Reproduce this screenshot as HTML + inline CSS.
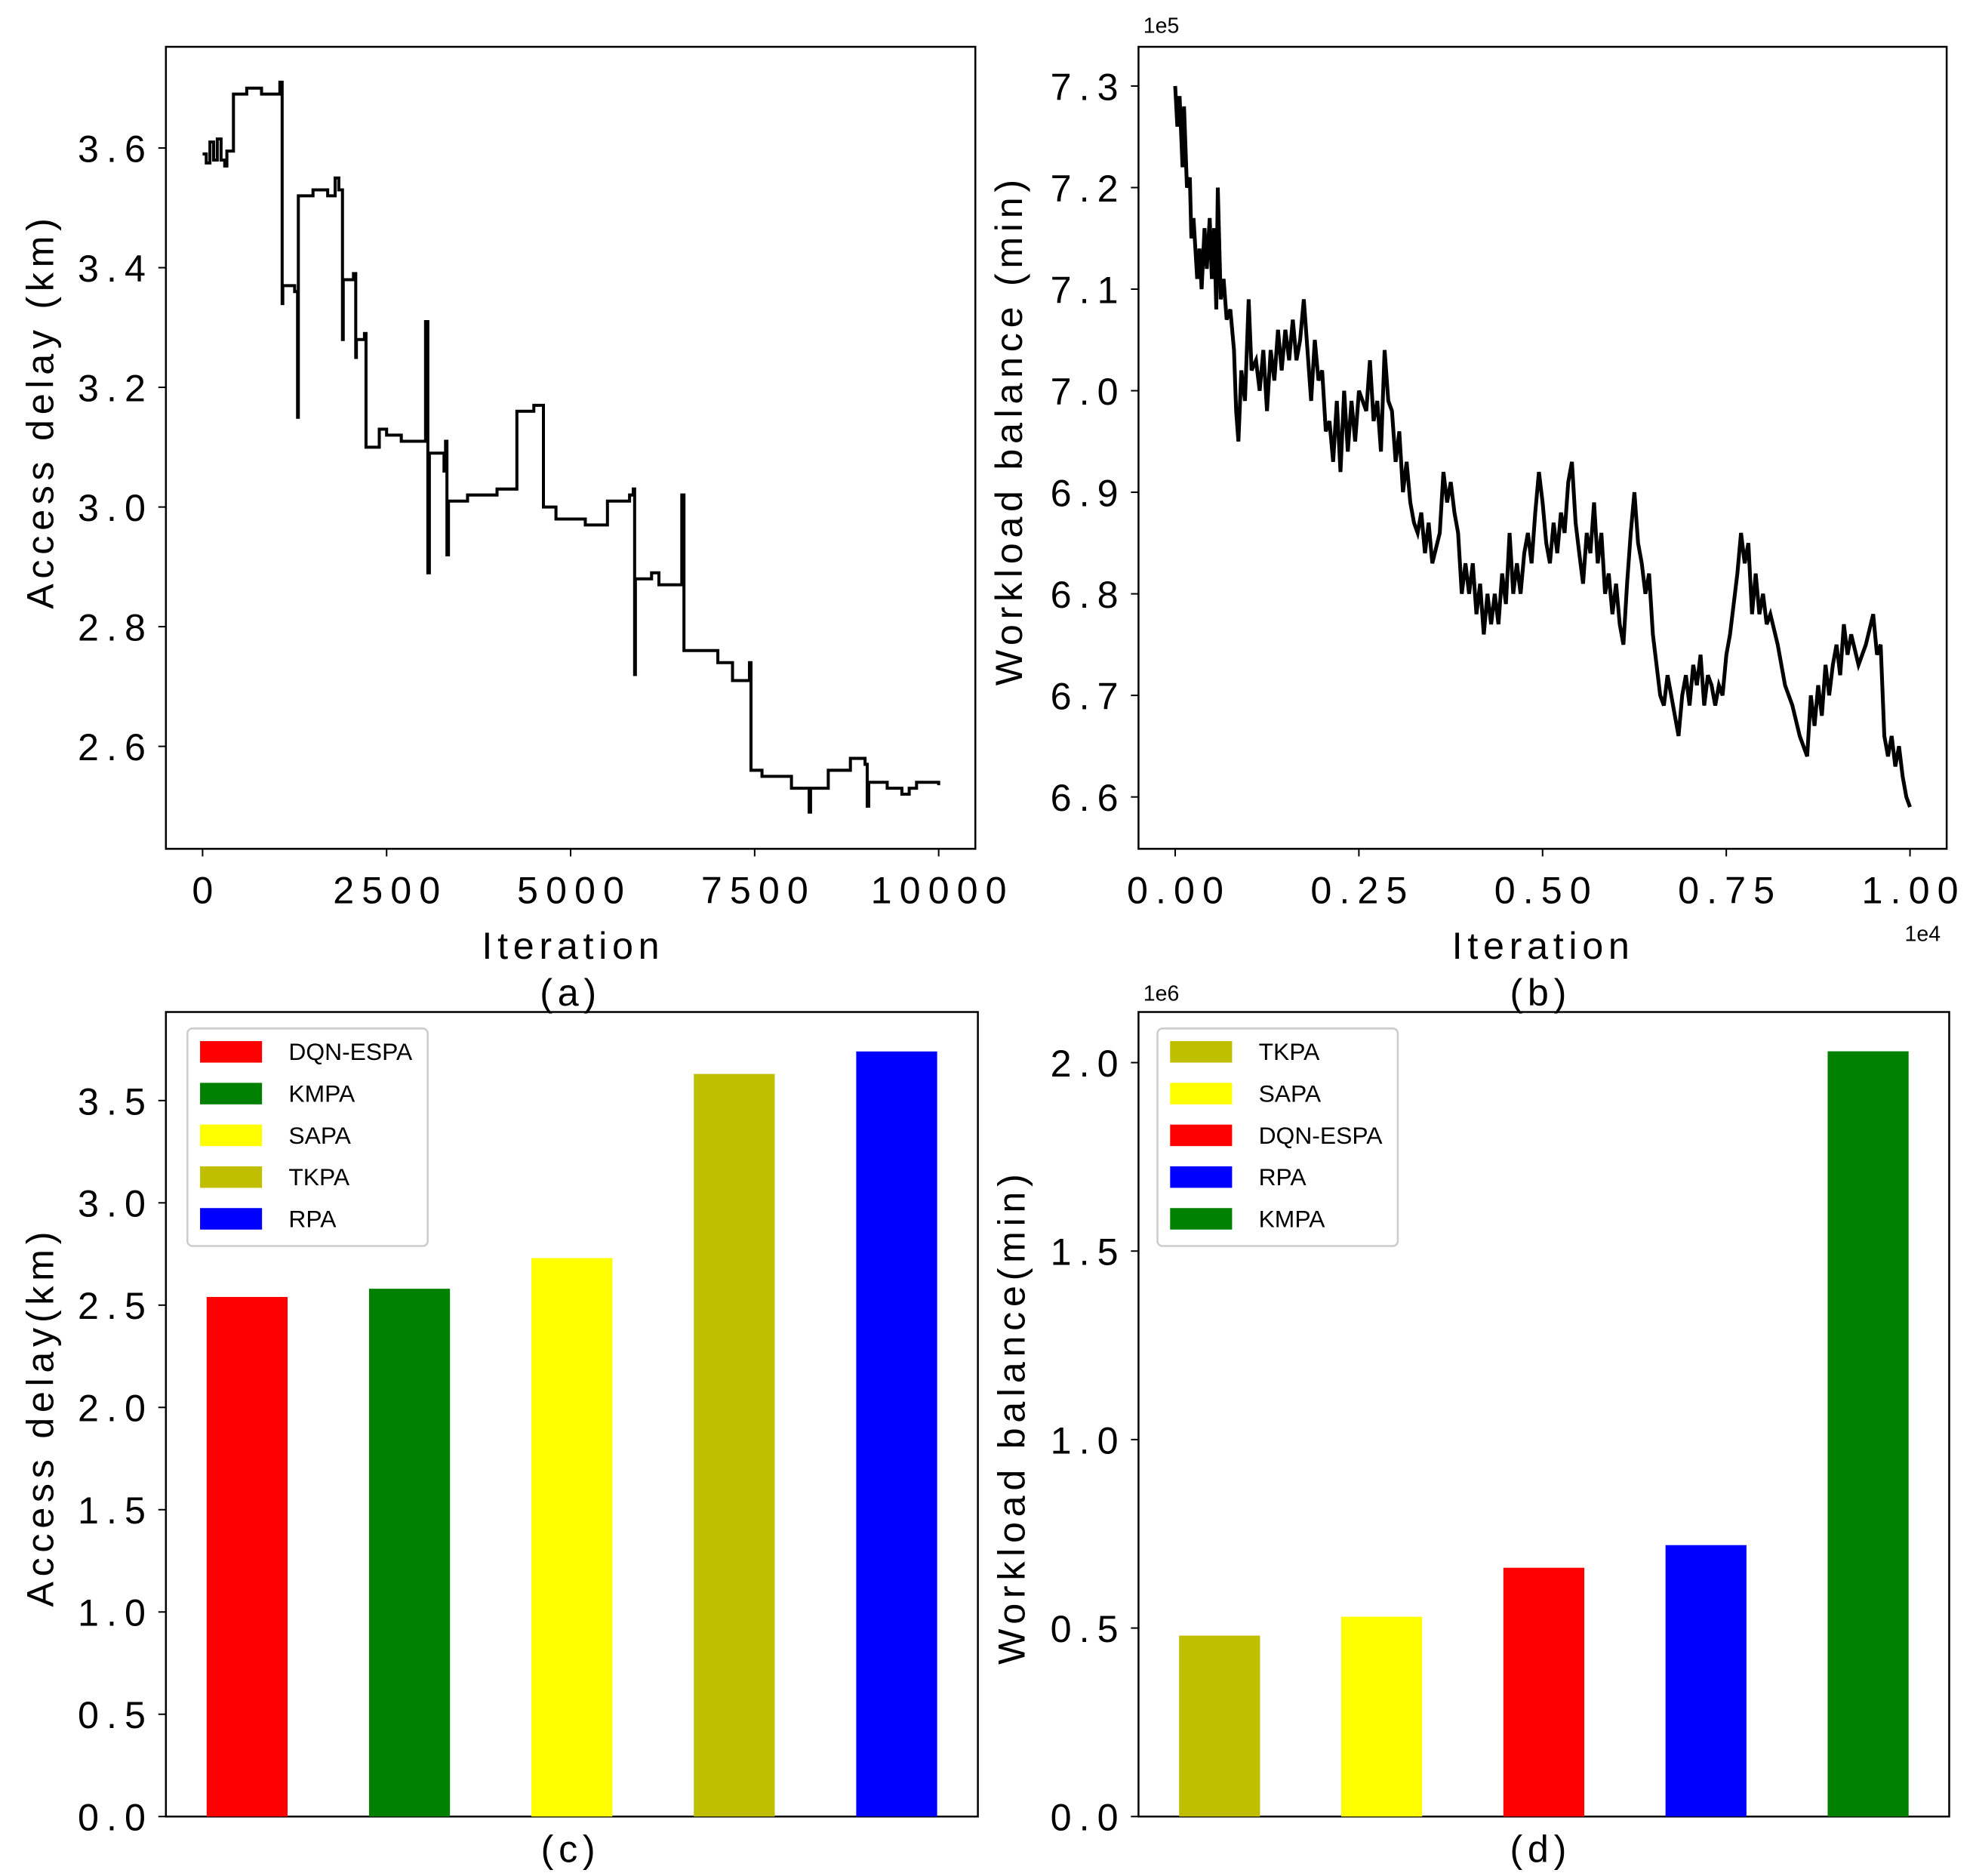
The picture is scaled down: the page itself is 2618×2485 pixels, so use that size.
<!DOCTYPE html>
<html><head><meta charset="utf-8">
<style>
html,body{margin:0;padding:0;background:#fff;}
svg{display:block;}
text{font-family:"Liberation Sans","Noto Sans CJK SC",sans-serif;fill:#000;}
.tick{font-size:30px;letter-spacing:6px;}
.lab{font-size:30px;letter-spacing:4px;}
.leg{font-size:19px;}
.small{font-size:17px;}
</style></head>
<body>
<svg id="fig" width="2618" height="2485" viewBox="0 0 1562 1483" xmlns="http://www.w3.org/2000/svg"></svg>
<script>
// ---- Data ----
const aIter = [0,50,100,150,200,250,300,330,400,420,600,800,1000,1050,1080,1090,1250,1290,1300,1500,1700,1800,1850,1900,1910,2050,2080,2090,2200,2220,2350,2400,2500,2700,3000,3030,3060,3080,3280,3300,3320,3340,3600,4000,4250,4270,4500,4600,4630,4800,5000,5200,5500,5800,5850,5870,5880,6100,6200,6500,6510,6540,6700,7000,7200,7400,7430,7450,7600,8000,8200,8240,8260,8500,8800,9000,9030,9050,9300,9500,9600,9700,10000];
const aDelay = [3.59,3.575,3.61,3.58,3.615,3.58,3.57,3.595,3.595,3.69,3.70,3.69,3.69,3.71,3.34,3.37,3.36,3.15,3.52,3.53,3.52,3.55,3.53,3.28,3.38,3.39,3.25,3.28,3.29,3.10,3.10,3.13,3.12,3.11,3.11,3.31,2.89,3.09,3.06,3.11,2.92,3.01,3.02,3.03,3.03,3.16,3.17,3.17,3.00,2.98,2.98,2.97,3.01,3.02,3.03,2.72,2.88,2.89,2.87,2.87,3.02,2.76,2.76,2.74,2.71,2.71,2.74,2.56,2.55,2.53,2.53,2.49,2.53,2.56,2.58,2.57,2.50,2.54,2.53,2.52,2.53,2.54,2.535];
const aYTicks = [2.6,2.8,3.0,3.2,3.4,3.6];
const aXTicks = [0,2500,5000,7500,10000];

const bIter = [0,.003,.006,.01,.012,.016,.02,.022,.025,.03,.033,.036,.04,.043,.047,.05,.053,.056,.058,.062,.066,.07,.075,.08,.083,.086,.09,.095,.1,.104,.11,.115,.12,.125,.13,.135,.14,.145,.15,.155,.16,.165,.17,.175,.18,.185,.19,.195,.2,.205,.21,.215,.22,.225,.23,.235,.24,.245,.25,.26,.265,.27,.275,.28,.285,.29,.295,.3,.305,.31,.315,.32,.325,.33,.335,.34,.345,.35,.36,.365,.37,.375,.38,.385,.39,.395,.4,.405,.41,.415,.42,.425,.43,.435,.44,.445,.45,.455,.46,.465,.47,.475,.48,.485,.49,.495,.5,.505,.51,.515,.52,.525,.53,.535,.54,.545,.55,.555,.56,.565,.57,.575,.58,.585,.59,.595,.6,.605,.61,.615,.62,.625,.63,.635,.64,.645,.65,.655,.66,.665,.67,.675,.68,.685,.69,.695,.7,.705,.71,.715,.72,.725,.73,.735,.74,.745,.75,.755,.76,.765,.77,.775,.78,.785,.79,.795,.8,.805,.81,.82,.83,.84,.85,.86,.865,.87,.875,.88,.885,.89,.895,.9,.905,.91,.915,.92,.93,.94,.95,.955,.96,.965,.97,.975,.98,.985,.99,.995,1.0];
const bBalance = [7.30,7.26,7.29,7.22,7.28,7.20,7.21,7.15,7.17,7.11,7.14,7.10,7.16,7.12,7.17,7.11,7.16,7.08,7.20,7.09,7.11,7.07,7.08,7.04,6.98,6.95,7.02,6.99,7.09,7.02,7.03,7.00,7.04,6.98,7.04,7.01,7.06,7.02,7.06,7.03,7.07,7.03,7.05,7.09,7.04,6.99,7.05,7.01,7.02,6.96,6.97,6.93,6.99,6.92,7.00,6.94,6.99,6.95,7.00,6.98,7.03,6.97,6.99,6.94,7.04,6.99,6.98,6.93,6.96,6.90,6.93,6.89,6.87,6.86,6.88,6.84,6.87,6.83,6.86,6.92,6.89,6.91,6.88,6.86,6.80,6.83,6.80,6.83,6.78,6.81,6.76,6.80,6.77,6.80,6.77,6.82,6.79,6.86,6.80,6.83,6.80,6.84,6.86,6.83,6.88,6.92,6.89,6.85,6.83,6.87,6.84,6.88,6.86,6.91,6.93,6.87,6.84,6.81,6.86,6.84,6.89,6.83,6.86,6.80,6.82,6.78,6.81,6.77,6.75,6.81,6.86,6.90,6.85,6.83,6.80,6.82,6.76,6.73,6.70,6.69,6.72,6.70,6.68,6.66,6.70,6.72,6.69,6.73,6.71,6.74,6.69,6.72,6.71,6.69,6.71,6.70,6.74,6.76,6.79,6.82,6.86,6.83,6.85,6.78,6.82,6.78,6.80,6.77,6.78,6.75,6.71,6.69,6.66,6.64,6.70,6.67,6.71,6.68,6.73,6.70,6.73,6.75,6.72,6.77,6.74,6.76,6.73,6.75,6.78,6.74,6.75,6.66,6.64,6.66,6.63,6.65,6.62,6.60,6.59];
const bYTicks = [6.6,6.7,6.8,6.9,7.0,7.1,7.2,7.3];
const bXTicks = [0,0.25,0.5,0.75,1.0];

const cCats = ["DQN-ESPA","KMPA","SAPA","TKPA","RPA"];
const cVals = [2.54,2.58,2.73,3.63,3.74];
const cColors = ["#ff0000","#008000","#ffff00","#bfbf00","#0000ff"];
const cYTicks = [0,0.5,1.0,1.5,2.0,2.5,3.0,3.5];

const dCats = ["TKPA","SAPA","DQN-ESPA","RPA","KMPA"];
const dVals = [0.48,0.53,0.66,0.72,2.03];
const dColors = ["#bfbf00","#ffff00","#ff0000","#0000ff","#008000"];
const dYTicks = [0,0.5,1.0,1.5,2.0];

// ---- Helpers ----
const NS="http://www.w3.org/2000/svg";
const svg=document.getElementById('fig');
function el(tag,attrs,parent){const e=document.createElementNS(NS,tag);for(const k in attrs)e.setAttribute(k,attrs[k]);(parent||svg).appendChild(e);return e;}
function txt(s,attrs,parent){const e=el('text',attrs,parent);e.textContent=s;return e;}
function lin(d0,d1,r0,r1){return v=>r0+(v-d0)/(d1-d0)*(r1-r0);}
function fmt(v,dec){return v.toFixed(dec);}

function frame(name,x0,y0,x1,y1){
  const r=el('rect',{x:x0,y:y0,width:x1-x0,height:y1-y0,fill:'none',stroke:'#000','stroke-width':1.5});
  
  
}
function yTicks(prefix,ticks,ys,x0,dec){
  ticks.forEach(t=>{
    const y=ys(t);
    el('line',{x1:x0-6,x2:x0,y1:y,y2:y,stroke:'#000','stroke-width':1.2});
    const e=txt(fmt(t,dec),{x:x0-10,y:y+11,'text-anchor':'end',class:'tick'});
    
    
  });
}
function xTicks(prefix,ticks,xs,y0,dec){
  ticks.forEach(t=>{
    const x=xs(t);
    el('line',{x1:x,x2:x,y1:y0,y2:y0+6,stroke:'#000','stroke-width':1.2});
    const e=txt(fmt(t,dec),{x:x+3,y:y0+43,'text-anchor':'middle',class:'tick'});
    
    
  });
}
function ylabel(name,s,x,y){
  const e=txt(s,{x:0,y:0,'text-anchor':'middle',class:'lab',transform:`translate(${x},${y}) rotate(-90)`});
  
  
}
function label(name,s,x,y,cls){
  const e=txt(s,{x:x,y:y,'text-anchor':'middle',class:cls||'lab'});
  
  
}

// ---- Panel (a) ----
{
  const xs=lin(0,10000,160,742), ys=lin(2.6,3.6,590,117);
  frame('panel-a',131,37,771,671);
  yTicks('panel-a',aYTicks,ys,131,1);
  xTicks('panel-a',aXTicks,xs,671,0);
  let d='';
  aIter.forEach((v,i)=>{
    const x=xs(v).toFixed(1), y=ys(aDelay[i]).toFixed(1);
    if(i===0) d+='M'+x+','+y;
    else d+='H'+x+'V'+y;
  });
  const p=el('path',{d:d,fill:'none',stroke:'#000','stroke-width':2.4,'stroke-linejoin':'miter'});
  
  
  ylabel('panel-a-y-axis-title','Access delay (km)',42,325);
  label('panel-a-x-axis-title','Iteration',453,758);
  label('caption-a','(a)',451,795);
}
// ---- Panel (b) ----
{
  const xs=lin(0,1,929,1510), ys=lin(6.6,7.3,630,68);
  frame('panel-b',900,37,1539,671);
  yTicks('panel-b',bYTicks,ys,900,1);
  xTicks('panel-b',bXTicks,xs,671,2);
  let d='';
  bIter.forEach((v,i)=>{d+=(i?'L':'M')+xs(v).toFixed(1)+','+ys(bBalance[i]).toFixed(1);});
  const p=el('path',{d:d,fill:'none',stroke:'#000','stroke-width':3,'stroke-linejoin':'miter'});
  
  
  ylabel('panel-b-y-axis-title','Workload balance (min)',808,340);
  label('panel-b-x-axis-title','Iteration',1220,758);
  label('panel-b-y-offset','1e5',918,26,'small');
  label('panel-b-x-offset','1e4',1520,744,'small');
  label('caption-b','(b)',1218,795);
}
// ---- Bar panels ----
function barPanel(key,x0,x1,y0,y1,ys,ticks,cats,vals,colors,legX){
  frame('panel-'+key,x0,y0,x1,y1);
  yTicks('panel-'+key,ticks,ys,x0,1);
  const n=cats.length, step=(x1-x0)/n, bw=64;
  cats.forEach((c,i)=>{
    const cx=x0+step*(i+0.5);
    const r=el('rect',{x:cx-bw/2,y:ys(vals[i]),width:bw,height:ys(0)-ys(vals[i]),fill:colors[i]});
    
    
  });
  const g=el('g',{});
  
  
  el('rect',{x:legX,y:y0+13,width:190,height:172,rx:4,fill:'#fff',stroke:'#ccc','stroke-width':1.5},g);
  cats.forEach((c,i)=>{
    const y=y0+31+i*33;
    const s=el('rect',{x:legX+10,y:y-8,width:49,height:17,fill:colors[i]},g);
    
    
    const t=txt(c,{x:legX+80,y:y+7,class:'leg'},g);
    
    
  });
}
barPanel('c',131,773,800,1436,lin(0,3.5,1436,870),cYTicks,cCats,cVals,cColors,148);
ylabel('panel-c-y-axis-title','Access delay(km)',42,1120);
label('caption-c','(c)',451,1472);
barPanel('d',900,1541,800,1436,lin(0,2.0,1436,840),dYTicks,dCats,dVals,dColors,915);
ylabel('panel-d-y-axis-title','Workload balance(min)',810,1120);
label('panel-d-y-offset','1e6',918,791,'small');
label('caption-d','(d)',1218,1472);
</script>
</body></html>
